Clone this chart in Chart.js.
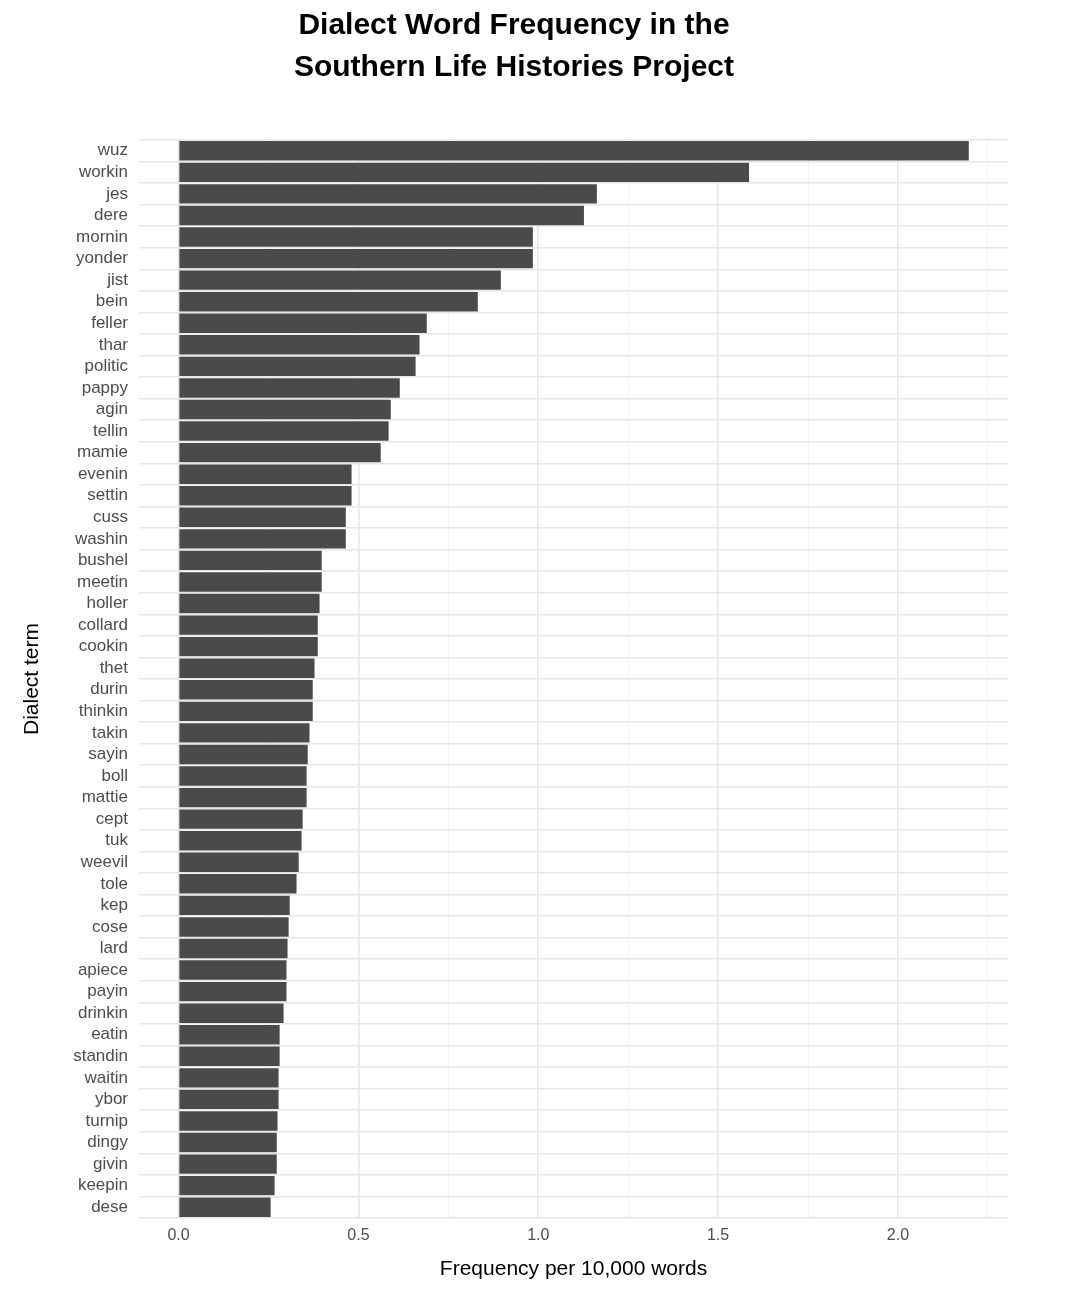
<!DOCTYPE html>
<html>
<head>
<meta charset="utf-8">
<script src="https://cdn.jsdelivr.net/npm/chart.js@4"></script>
<style>
  html, body { margin: 0; padding: 0; background: #fff; }
  #wrap { width: 1078px; height: 1292px; }
</style>
</head>
<body>
<div id="wrap"><canvas id="chart" width="1078" height="1292"></canvas></div>
<script>
// dialect terms, top to bottom
const terms = ['wuz','workin','jes','dere','mornin','yonder','jist','bein','feller','thar',
  'politic','pappy','agin','tellin','mamie','evenin','settin','cuss','washin','bushel',
  'meetin','holler','collard','cookin','thet','durin','thinkin','takin','sayin','boll',
  'mattie','cept','tuk','weevil','tole','kep','cose','lard','apiece','payin',
  'drinkin','eatin','standin','waitin','ybor','turnip','dingy','givin','keepin','dese'];

// frequency per 10,000 words
const freq = [2.197,1.586,1.163,1.127,0.985,0.985,0.896,0.832,0.690,0.670,
  0.659,0.615,0.590,0.584,0.562,0.481,0.481,0.465,0.465,0.398,
  0.398,0.392,0.387,0.387,0.378,0.373,0.373,0.364,0.359,0.356,
  0.356,0.345,0.342,0.334,0.328,0.309,0.306,0.303,0.300,0.300,
  0.292,0.281,0.281,0.278,0.278,0.275,0.273,0.273,0.267,0.256];

const font = 'Helvetica, "Liberation Sans", Arial, sans-serif';

new Chart(document.getElementById('chart'), {
  type: 'bar',
  data: {
    labels: terms,
    datasets: [{
      data: freq,
      backgroundColor: '#4a4a4a',
      borderWidth: 0,
      categoryPercentage: 0.9,
      barPercentage: 1.0
    }]
  },
  options: {
    indexAxis: 'y',
    responsive: false,
    animation: false,
    layout: { padding: { left: 20, right: 70, top: 0, bottom: 10 } },
    plugins: {
      legend: { display: false },
      tooltip: { enabled: false },
      title: {
        display: true,
        text: ['Dialect Word Frequency in the', 'Southern Life Histories Project'],
        color: '#000',
        font: { family: font, size: 30, weight: 'bold', lineHeight: 1.4 },
        padding: { top: 5, bottom: 51 }
      }
    },
    scales: {
      x: {
        min: -0.11,
        max: 2.306,
        afterBuildTicks: (axis) => {
          const t = [];
          for (let v = 0; v <= 2.25 + 1e-9; v += 0.25) t.push({ value: +v.toFixed(2) });
          axis.ticks = t;
        },
        afterFit: (axis) => { axis.height = 64; },
        grid: {
          color: (ctx) => (Math.abs(ctx.tick.value * 2 - Math.round(ctx.tick.value * 2)) < 1e-6) ? '#e6e6e6' : '#f0f0f0',
          lineWidth: (ctx) => (Math.abs(ctx.tick.value * 2 - Math.round(ctx.tick.value * 2)) < 1e-6) ? 1.6 : 0.9,
          drawTicks: false
        },
        border: { display: false },
        ticks: {
          color: '#4d4d4d',
          font: { family: font, size: 16 },
          padding: 8,
          autoSkip: false,
          maxRotation: 0,
          callback: (v) => (Math.abs(v * 2 - Math.round(v * 2)) < 1e-6) ? v.toFixed(1) : ''
        },
        title: {
          display: true,
          text: 'Frequency per 10,000 words',
          color: '#000',
          font: { family: font, size: 21 },
          padding: { top: 6, bottom: 0 }
        }
      },
      y: {
        afterFit: (axis) => { axis.width = 119; },
        grid: { color: '#e6e6e6', lineWidth: 1.6, drawTicks: false },
        border: { display: false },
        ticks: {
          color: '#4d4d4d',
          font: { family: font, size: 17 },
          padding: 11,
          autoSkip: false
        },
        title: {
          display: true,
          text: 'Dialect term',
          color: '#000',
          font: { family: font, size: 21 },
          padding: { top: 0, bottom: 6 }
        }
      }
    }
  }
});
</script>
</body>
</html>
